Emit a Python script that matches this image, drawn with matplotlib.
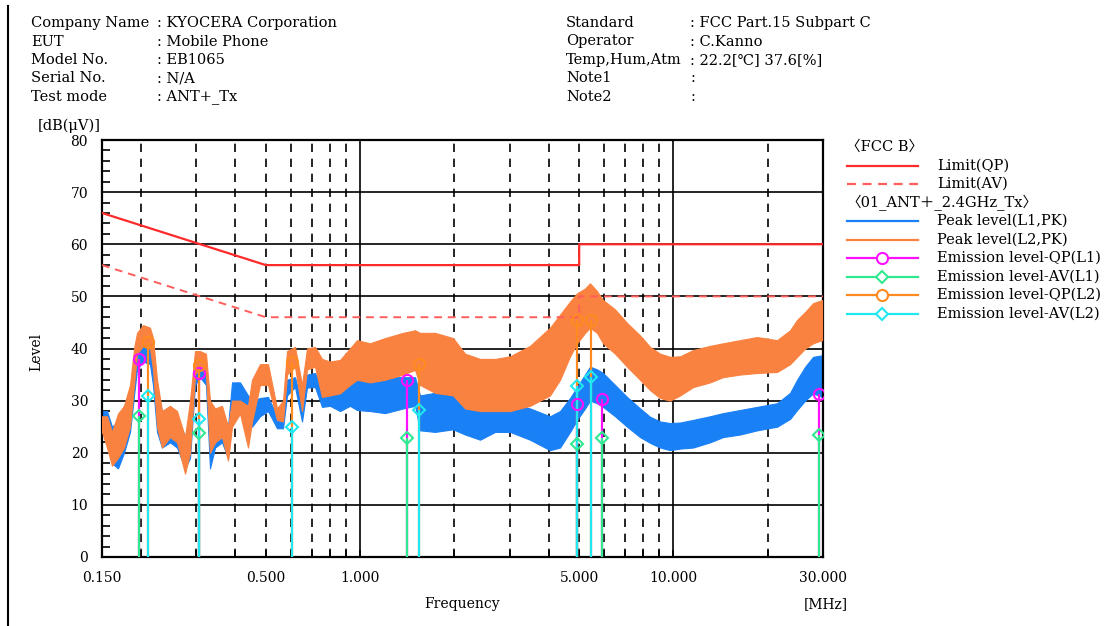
import matplotlib
matplotlib.use('Agg')
import matplotlib.pyplot as plt
from matplotlib.lines import Line2D
from matplotlib.ticker import FixedLocator, NullFormatter

plt.rcParams['font.family'] = ['DejaVu Serif', 'Noto Sans CJK JP']

# ---------------- data ----------------
freq = [0.150, 0.1556, 0.1614, 0.1687, 0.1763, 0.1843, 0.1898, 0.1940, 0.2028, 0.2134,
        0.2182, 0.2247, 0.2331, 0.2472, 0.2603, 0.2761, 0.2864, 0.2971, 0.3082, 0.3221,
        0.3317, 0.3442, 0.3623, 0.3787, 0.3900, 0.4136, 0.4386, 0.4517, 0.4790, 0.5081,
        0.5428, 0.5673, 0.5842, 0.6196, 0.6522, 0.6766, 0.7177, 0.7555, 0.8015, 0.8623,
        0.9276, 0.9774, 1.0752, 1.2007, 1.3703, 1.4967, 1.5527, 1.7338, 1.979, 2.162,
        2.414, 2.696, 3.009, 3.484, 4.036, 4.344, 4.676, 4.923, 5.220, 5.415,
        5.701, 5.958, 6.509, 7.109, 7.821, 8.420, 9.061, 9.752, 10.50, 11.55,
        13.08, 14.39, 16.31, 18.48, 21.41, 23.56, 24.80, 26.31, 27.90, 29.80]

peak_l1_low = [24, 22, 18, 17, 20, 24, 31, 36, 37.5, 37,
               33, 24, 21, 22, 21, 17, 19, 33, 34.5, 33,
               17, 21, 22, 19, 29, 30, 26, 25, 27, 28,
               24.7, 24.7, 31, 32.6, 26, 32.5, 32.6, 28.8, 29, 28,
               29, 28.2, 28, 27.6, 28.5, 29, 24.3, 24, 24.5, 23.5,
               22.5, 24, 24, 22.5, 20.5, 21, 24, 26.3, 28.5, 30,
               29.5, 28.8, 27, 25, 23, 21.9, 21, 20.5, 20.8, 21,
               22, 23, 23.5, 24.3, 25, 26.5, 28.2, 30, 31.4, 30.7]
peak_l1_high = [28, 28, 25, 26, 29, 31, 38, 40, 41, 40,
                38, 32, 28, 28.5, 27, 23, 28, 37, 37.5, 37,
                27, 28, 28, 25, 33.5, 33.5, 31, 30, 30.5, 30.7,
                27, 27.5, 34, 34.5, 29, 35, 35.3, 32.6, 33, 33,
                34, 35.9, 34.5, 34.5, 34.5, 34.5, 31, 31.5, 32, 31,
                30, 30, 29.5, 28.5, 27, 28, 30.5, 32.6, 35, 36.5,
                36, 35.3, 33, 30.7, 28.5, 26.9, 26, 25.7, 25.8, 26.3,
                27, 27.6, 28.2, 28.8, 29.5, 31.5, 34, 36.5, 38.4, 38.7]
peak_l2_low = [24, 21, 17.5, 19, 21, 25, 33, 39, 40.5, 40,
               36, 25, 21, 23, 22, 16, 20, 35, 36.5, 35,
               20, 22, 23, 18.5, 25, 27.5, 21, 26, 33, 33,
               26.3, 26, 35, 36.5, 28, 36, 36.5, 30.7, 31, 31.4,
               33, 34, 33.5, 34, 35, 35.9, 33, 31.5, 31, 28.5,
               28, 28, 28, 29, 31, 34, 38.5, 41, 43, 44,
               43, 41, 39, 36.5, 34, 32, 30.5, 30, 31, 32.6,
               33.5, 34.5, 35, 35.3, 35.5, 37, 38.4, 40, 41, 41.6]
peak_l2_high = [27, 27, 24, 27.5, 29, 33, 40, 43, 44.5, 44,
                42, 34, 28, 29, 28, 23, 30, 39.5, 39.5, 39,
                30, 28.5, 29, 25, 30, 30, 29, 34, 37, 37,
                28.5, 30, 39.5, 40.3, 33, 40, 40.3, 38, 37.5, 37.8,
                40, 41.6, 41, 42, 43, 43.5, 43, 43, 42, 39,
                38, 38, 38.5, 40.5, 44, 46.5, 49, 50.6, 51.5, 52.5,
                51, 49.3, 47.5, 44.9, 42.5, 40.3, 39, 38.4, 38.5, 39.7,
                40.5, 41, 41.6, 42.2, 41.6, 43.5, 45.5, 47, 48.7, 49.3]

limit_freq = [0.15, 0.5, 5.0, 5.0, 30.0]
limit_qp = [66, 56, 56, 60, 60]
limit_av = [56, 46, 46, 50, 50]

l1_freq = [0.197, 0.306, 1.414, 4.93, 5.90, 29.1]
l1_qp = [37.9, 35.3, 34.0, 29.4, 30.3, 31.3]
l1_av = [27.0, 23.7, 22.8, 21.6, 22.8, 23.5]
l2_freq = [0.210, 0.306, 0.605, 1.545, 4.93, 5.47]
l2_qp = [41.2, 36.8, 37.5, 37.0, 45.5, 45.5]
l2_av = [30.8, 26.5, 25.0, 28.2, 32.8, 34.5]

xtick_vals = [0.15, 0.5, 1.0, 5.0, 10.0, 30.0]
xtick_labels = ['0.150', '0.500', '1.000', '5.000', '10.000', '30.000']
minor_vals = [0.2, 0.3, 0.4, 0.6, 0.7, 0.8, 0.9, 2, 3, 4, 6, 7, 8, 9, 20]
dashed_vals = [0.2, 0.3, 0.4, 0.5, 0.6, 0.7, 0.8, 0.9, 2, 3, 4, 5, 6, 7, 8, 9, 20]
ytick_vals = [0, 10, 20, 30, 40, 50, 60, 70, 80]

header_left = [('Company Name', ': KYOCERA Corporation'), ('EUT', ': Mobile Phone'),
               ('Model No.', ': EB1065'), ('Serial No.', ': N/A'), ('Test mode', ': ANT+_Tx')]
header_right = [('Standard', ': FCC Part.15 Subpart C'), ('Operator', ': C.Kanno'),
                ('Temp,Hum,Atm', ': 22.2[℃] 37.6[%]'), ('Note1', ':'), ('Note2', ':')]

# ---------------- colours ----------------
C_L1 = '#1a80f5'
C_L2 = '#fa8240'
C_RED = '#ff2a2a'
C_RED2 = '#ff5c5c'
C_QP1 = '#ff10ff'
C_AV1 = '#30e890'
C_QP2 = '#ff8a20'
C_AV2 = '#20e8f0'

FS = 10.5
W, H = 1115, 626
fig = plt.figure(figsize=(W / 100, H / 100), dpi=100)
fx = lambda x: x / W
fy = lambda y: 1 - y / H

ax = fig.add_axes([fx(102), fy(557), (823 - 102) / W, (557 - 140) / H])
ax.set_xscale('log')
ax.set_xlim(0.15, 30)
ax.set_ylim(0, 80)

# grid
for v in [10, 20, 30, 40, 50, 60, 70]:
    ax.axhline(v, color='black', lw=1.2, zorder=1)
for v in [1.0, 10.0]:
    ax.axvline(v, color='black', lw=1.2, zorder=1)
for v in dashed_vals:
    ax.axvline(v, color='black', lw=1.2, ls=(0, (5, 4)), zorder=1)

# traces
ax.fill_between(freq, peak_l1_low, peak_l1_high, color=C_L1, lw=0.8, zorder=2)
ax.fill_between(freq, peak_l2_low, peak_l2_high, color=C_L2, lw=0.8, zorder=3)

# limits
ax.plot(limit_freq, limit_qp, color=C_RED, lw=1.6, zorder=4)
ax.plot(limit_freq, limit_av, color=C_RED2, lw=1.4, ls=(0, (4, 3)), zorder=4)

# emission stems & markers
ax.vlines(l1_freq, 0, l1_qp, color=C_QP1, lw=1.6, zorder=5)
ax.vlines(l1_freq, 0, l1_av, color=C_AV1, lw=1.6, zorder=6)
ax.vlines(l2_freq, 0, l2_qp, color=C_QP2, lw=1.6, zorder=5)
ax.vlines(l2_freq, 0, l2_av, color=C_AV2, lw=1.6, zorder=6)
ax.plot(l1_freq, l1_qp, 'o', mfc='none', mec=C_QP1, ms=8, mew=1.5, zorder=7)
ax.plot(l1_freq, l1_av, 'D', mfc='none', mec=C_AV1, ms=6.5, mew=1.5, zorder=7)
ax.plot(l2_freq, l2_qp, 'o', mfc='none', mec=C_QP2, ms=8, mew=1.5, zorder=7)
ax.plot(l2_freq, l2_av, 'D', mfc='none', mec=C_AV2, ms=6.5, mew=1.5, zorder=7)

# ticks
ax.xaxis.set_major_locator(FixedLocator(xtick_vals))
ax.set_xticklabels(xtick_labels, fontsize=10)
ax.xaxis.set_minor_locator(FixedLocator(minor_vals))
ax.xaxis.set_minor_formatter(NullFormatter())
ax.set_yticks(ytick_vals)
ax.set_yticklabels([str(v) for v in ytick_vals], fontsize=10)
ax.yaxis.set_minor_locator(FixedLocator([v for v in range(0, 81, 2) if v % 10]))
ax.tick_params(axis='both', which='both', direction='in', top=False, right=False)
ax.tick_params(axis='x', which='both', length=5, width=1.2, pad=10)
ax.tick_params(axis='y', which='major', length=0, pad=10)
ax.tick_params(axis='y', which='minor', length=6, width=1.2)
for s in ax.spines.values():
    s.set_linewidth(1.6)

fig.text(fx(462), fy(604), 'Frequency', ha='center', va='center', fontsize=10)
fig.text(fx(826), fy(604), '[MHz]', ha='center', va='center', fontsize=10)
fig.text(fx(36), fy(352), 'Level', ha='center', va='center', rotation=90, fontsize=10)
fig.text(fx(38), fy(126), '[dB(μV)]', ha='left', va='center', fontsize=FS)

# header
for i, (k, v) in enumerate(header_left):
    y = 23 + i * 18.5
    fig.text(fx(31), fy(y), k, ha='left', va='center', fontsize=FS)
    fig.text(fx(157), fy(y), v, ha='left', va='center', fontsize=FS)
for i, (k, v) in enumerate(header_right):
    y = 23 + i * 18.5
    fig.text(fx(566), fy(y), k, ha='left', va='center', fontsize=FS)
    fig.text(fx(690), fy(y), v, ha='left', va='center', fontsize=FS)

# page border line
fig.add_artist(Line2D([fx(8), fx(8)], [0, fy(6)], color='black', lw=1.5, transform=fig.transFigure))

# legend (manual)
def leg_line(y, color, ls='-', marker=None):
    fig.add_artist(Line2D([fx(847), fx(918)], [fy(y), fy(y)], color=color, lw=1.6, ls=ls,
                          transform=fig.transFigure))
    if marker:
        fig.add_artist(Line2D([fx(882)], [fy(y)], marker=marker, mfc='white', mec=color,
                              ms=8 if marker == 'o' else 6.5, mew=1.5, lw=0,
                              transform=fig.transFigure))

rows = [147, 165.5, 184, 202.5, 221, 239.5, 258, 276.5, 295, 313.5]
fig.text(fx(846), fy(rows[0]), '〈FCC B〉', ha='left', va='center', fontsize=FS)
leg_line(rows[1], C_RED)
fig.text(fx(937), fy(rows[1]), 'Limit(QP)', ha='left', va='center', fontsize=FS)
leg_line(rows[2], C_RED2, ls=(0, (4, 3)))
fig.text(fx(937), fy(rows[2]), 'Limit(AV)', ha='left', va='center', fontsize=FS)
fig.text(fx(846), fy(rows[3]), '〈01_ANT＋_2.4GHz_Tx〉', ha='left', va='center', fontsize=FS)
leg_line(rows[4], C_L1)
fig.text(fx(937), fy(rows[4]), 'Peak level(L1,PK)', ha='left', va='center', fontsize=FS)
leg_line(rows[5], C_L2)
fig.text(fx(937), fy(rows[5]), 'Peak level(L2,PK)', ha='left', va='center', fontsize=FS)
leg_line(rows[6], C_QP1, marker='o')
fig.text(fx(937), fy(rows[6]), 'Emission level-QP(L1)', ha='left', va='center', fontsize=FS)
leg_line(rows[7], C_AV1, marker='D')
fig.text(fx(937), fy(rows[7]), 'Emission level-AV(L1)', ha='left', va='center', fontsize=FS)
leg_line(rows[8], C_QP2, marker='o')
fig.text(fx(937), fy(rows[8]), 'Emission level-QP(L2)', ha='left', va='center', fontsize=FS)
leg_line(rows[9], C_AV2, marker='D')
fig.text(fx(937), fy(rows[9]), 'Emission level-AV(L2)', ha='left', va='center', fontsize=FS)

fig.savefig('out.png', dpi=100, facecolor='white')
